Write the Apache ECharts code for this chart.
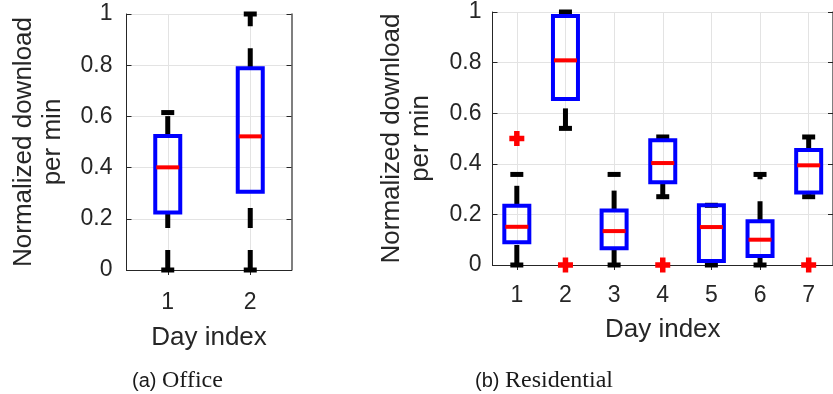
<!DOCTYPE html>
<html><head><meta charset="utf-8">
<script src="https://cdn.jsdelivr.net/npm/echarts@6/dist/echarts.min.js"></script>
<style>html,body{margin:0;padding:0;background:#fff}#c{width:833px;height:394px}</style>
</head><body><div id="c"></div>
<script>
// ---- Office (a) ----
const officeDays = ['1', '2'];
const officeLow = [0, 0];
const officeQ1 = [0.225, 0.306];
const officeMedian = [0.401, 0.522];
const officeQ3 = [0.523, 0.788];
const officeHigh = [0.615, 1.0];

// ---- Residential (b) ----
const resDays = ['1', '2', '3', '4', '5', '6', '7'];
const resLow = [0, 0.54, 0, 0.27, 0, 0, 0.27];
const resQ1 = [0.090, 0.656, 0.066, 0.327, 0.016, 0.036, 0.287];
const resMedian = [0.151, 0.809, 0.134, 0.403, 0.150, 0.100, 0.394];
const resQ3 = [0.234, 0.984, 0.215, 0.493, 0.236, 0.173, 0.455];
const resHigh = [0.358, 1.0, 0.358, 0.506, 0.236, 0.358, 0.506];
const resOutlierDay = [0, 1, 3, 6];
const resOutlierValue = [0.5, 0, 0, 0];

const yMin = 0, yMax = 1, yStep = 0.2;
const yName = 'Normalized download\nper min';
const xName = 'Day index';

const SANS = "'Liberation Sans', Arial, Helvetica, sans-serif";
const SERIF = "'Liberation Serif', 'DejaVu Serif', serif";
const TXT = '#262626';

function boxRows(low, q1, med, q3, high) {
  return low.map((v, i) => [i, v, q1[i], med[i], q3[i], high[i]]);
}

function renderBox(params, api) {
  const i = api.value(0);
  const lo = api.coord([i, api.value(1)]);
  const a = api.coord([i, api.value(2)]);
  const m = api.coord([i, api.value(3)]);
  const b = api.coord([i, api.value(4)]);
  const hi = api.coord([i, api.value(5)]);
  const x = a[0];
  const hw = 12.5, capHw = 6.5, medHw = 11.5;
  const wStyle = { stroke: '#000', lineWidth: 5, lineDash: [20, 22], fill: null };
  return {
    type: 'group',
    children: [
      { type: 'line', shape: { x1: x, y1: lo[1], x2: x, y2: a[1] }, style: wStyle },
      { type: 'line', shape: { x1: x, y1: b[1], x2: x, y2: hi[1] }, style: wStyle },
      { type: 'line', shape: { x1: x - capHw, y1: lo[1], x2: x + capHw, y2: lo[1] }, style: { stroke: '#000', lineWidth: 5 } },
      { type: 'line', shape: { x1: x - capHw, y1: hi[1], x2: x + capHw, y2: hi[1] }, style: { stroke: '#000', lineWidth: 5 } },
      { type: 'rect', shape: { x: x - hw, y: b[1], width: 2 * hw, height: a[1] - b[1] }, style: { stroke: '#0000ff', lineWidth: 4, fill: null } },
      { type: 'line', shape: { x1: x - medHw, y1: m[1], x2: x + medHw, y2: m[1] }, style: { stroke: '#ff0000', lineWidth: 4 } }
    ]
  };
}

function renderPlus(params, api) {
  const p = api.coord([api.value(0), api.value(1)]);
  const s = 7.5, t = 2.75;
  return {
    type: 'group',
    children: [
      { type: 'rect', shape: { x: p[0] - s, y: p[1] - t, width: 2 * s, height: 2 * t }, style: { fill: '#ff0000' } },
      { type: 'rect', shape: { x: p[0] - t, y: p[1] - s, width: 2 * t, height: 2 * s }, style: { fill: '#ff0000' } }
    ]
  };
}

function bottomX(gi, cats, labelMargin, nameGap) {
  return {
    type: 'category', gridIndex: gi, data: cats, position: 'bottom',
    axisLine: { show: true, lineStyle: { color: TXT, width: 1 } },
    axisTick: { show: true, inside: true, length: 5, alignWithLabel: true, lineStyle: { color: TXT } },
    axisLabel: { show: true, color: TXT, fontSize: 23, fontFamily: SANS, margin: labelMargin },
    splitLine: { show: true, alignWithLabel: true, lineStyle: { color: '#e3e3e3', width: 1 } },
    name: xName, nameLocation: 'middle', nameGap: nameGap,
    nameTextStyle: { color: TXT, fontSize: 26, fontFamily: SANS }
  };
}
function topX(gi, cats) {
  return {
    type: 'category', gridIndex: gi, data: cats, position: 'top',
    axisLine: { show: true, lineStyle: { color: TXT, width: 1 } },
    axisTick: { show: true, inside: true, length: 5, alignWithLabel: true, lineStyle: { color: TXT } },
    axisLabel: { show: false }, splitLine: { show: false }
  };
}
function leftY(gi, labelMargin, nameGap) {
  return {
    type: 'value', gridIndex: gi, min: yMin, max: yMax, interval: yStep, position: 'left',
    axisLine: { show: true, lineStyle: { color: TXT, width: 1 } },
    axisTick: { show: true, inside: true, length: 5, lineStyle: { color: TXT } },
    axisLabel: { show: true, color: TXT, fontSize: 23, fontFamily: SANS, margin: labelMargin },
    splitLine: { show: true, lineStyle: { color: '#e3e3e3', width: 1 } },
    name: yName, nameLocation: 'middle', nameRotate: 90, nameGap: nameGap,
    nameTextStyle: { color: TXT, fontSize: 26, fontFamily: SANS, lineHeight: 29, align: 'center' }
  };
}
function rightY(gi) {
  return {
    type: 'value', gridIndex: gi, min: yMin, max: yMax, interval: yStep, position: 'right',
    axisLine: { show: true, lineStyle: { color: '#555', width: 1.5 } },
    axisTick: { show: true, inside: true, length: 5, lineStyle: { color: TXT } },
    axisLabel: { show: false }, splitLine: { show: false }
  };
}

const captionRich = {
  a: { fontFamily: SANS, fontSize: 20, fill: '#1a1a1a' },
  b: { fontFamily: SERIF, fontSize: 24, fill: '#1a1a1a' }
};

const chart = echarts.init(document.getElementById('c'), null, { renderer: 'canvas' });
chart.setOption({
  animation: false,
  backgroundColor: '#ffffff',
  grid: [
    { left: 126.5, top: 14, width: 165, height: 256 },
    { left: 492.5, top: 12, width: 350.5, height: 253 }
  ],
  xAxis: [bottomX(0, officeDays, 21, 55), topX(0, officeDays), bottomX(1, resDays, 19, 52), topX(1, resDays)],
  yAxis: [leftY(0, 14, 59), rightY(0), leftY(1, 11, 57), rightY(1)],
  series: [
    { type: 'custom', xAxisIndex: 0, yAxisIndex: 0, renderItem: renderBox,
      data: boxRows(officeLow, officeQ1, officeMedian, officeQ3, officeHigh), z: 5 },
    { type: 'custom', xAxisIndex: 2, yAxisIndex: 2, renderItem: renderBox,
      data: boxRows(resLow, resQ1, resMedian, resQ3, resHigh), z: 5 },
    { type: 'custom', xAxisIndex: 2, yAxisIndex: 2, renderItem: renderPlus,
      data: resOutlierDay.map((d, i) => [d, resOutlierValue[i]]), z: 6 }
  ],
  graphic: [
    { type: 'text', x: 132, y: 381,
      style: { text: '{a|(a) }{b|Office}', verticalAlign: 'middle', align: 'left', fill: '#1a1a1a', rich: captionRich } },
    { type: 'text', x: 475, y: 381,
      style: { text: '{a|(b) }{b|Residential}', verticalAlign: 'middle', align: 'left', fill: '#1a1a1a', rich: captionRich } }
  ]
});
</script></body></html>
